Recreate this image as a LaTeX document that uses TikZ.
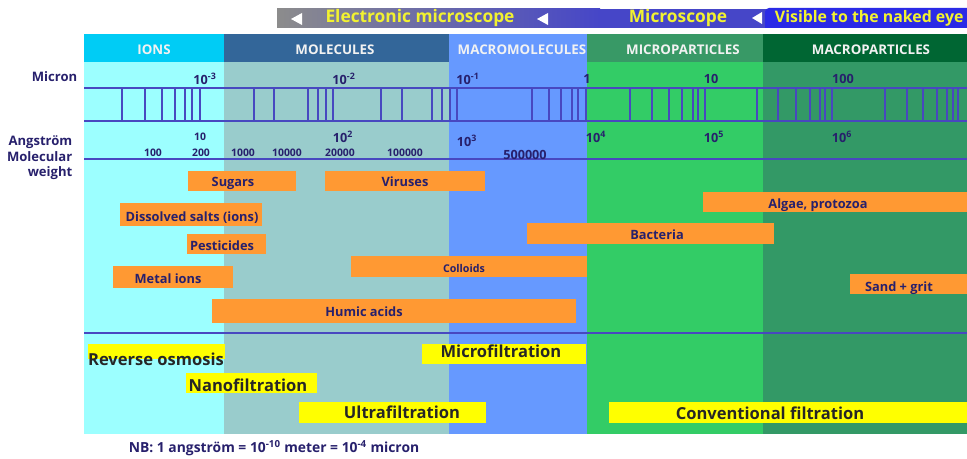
\documentclass[tikz,border=0pt]{standalone}
\usepackage{fontspec}
\setmainfont{Open Sans}
\usetikzlibrary{positioning}

\definecolor{ionhd}{HTML}{00CCF5}
\definecolor{ionbg}{HTML}{9CFFFF}
\definecolor{molhd}{HTML}{336699}
\definecolor{molbg}{HTML}{99CCCC}
\definecolor{mcmhd}{HTML}{6699FF}
\definecolor{mcmbg}{HTML}{6699FF}
\definecolor{mcphd}{HTML}{389966}
\definecolor{mcpbg}{HTML}{33CC66}
\definecolor{maphd}{HTML}{006633}
\definecolor{mapbg}{HTML}{339966}
\definecolor{orng}{HTML}{FF9933}
\definecolor{yel}{HTML}{FFFF00}
\definecolor{navy}{HTML}{27206C}
\definecolor{scl}{HTML}{4848C0}
\definecolor{txtdk}{HTML}{262626}
\definecolor{bargray}{HTML}{8C8C8C}
\definecolor{barblue}{HTML}{4646C8}
\definecolor{tabblue}{HTML}{2A2AE6}
\definecolor{bartxt}{HTML}{F2F230}

\begin{document}
\begin{tikzpicture}[x=0.75pt, y=-0.75pt,
    hdr/.style={font=\bfseries\fontsize{10}{11}\selectfont, text=white!95!black},
    toptxt/.style={font=\bfseries\fontsize{13}{14}\selectfont, text=bartxt},
    axl/.style={font=\bfseries\fontsize{9.5}{11}\selectfont, text=navy},
    mwl/.style={font=\bfseries\fontsize{7.8}{9}\selectfont, text=navy},
    sidelbl/.style={font=\bfseries\fontsize{9.8}{11.6}\selectfont, text=navy, align=right, anchor=east},
    blbl/.style={font=\bfseries\fontsize{9.6}{11}\selectfont, text=navy, inner sep=0pt, text height=1.6ex, text depth=0.4ex},
    flbl/.style={font=\bfseries\fontsize{12.4}{14}\selectfont, text=txtdk, inner sep=0pt, text height=1.6ex, text depth=0.4ex},
    sline/.style={draw=scl, line width=0.9pt}
]
\useasboundingbox (0,0) rectangle (967,459);

% size classes
\foreach \xa/\xb/\hc/\bc in {84/224/ionhd/ionbg, 224/449/molhd/molbg, 449/587/mcmhd/mcmbg, 587/763/mcphd/mcpbg, 763/967/maphd/mapbg}
{
  \fill[\bc] (\xa,62) rectangle (\xb,434);
  \fill[\hc] (\xa,34) rectangle (\xb,62);
}
\node[hdr] (hion) at (154,50) {IONS};
\node[hdr] (hmol) at (335,50) {MOLECULES};
\node[hdr] (hmcm) at (522,50) {MACROMOLECULES};
\node[hdr] (hmcp) at (683,50) {MICROPARTICLES};
\node[hdr] (hmap) at (871,50) {MACROPARTICLES};

% observation bar
\shade[left color=bargray, right color=barblue] (277,9) rectangle (600,28);
\fill[barblue] (599,9) rectangle (766,28);
\fill[tabblue] (765,28) [rounded corners=3pt] -- (765,8) [sharp corners] -- (967,8) -- (967,28) -- cycle;
\fill[white] (291,19) -- (302,13) -- (302,25) -- cycle;
\fill[white] (537,19) -- (548,13) -- (548,25) -- cycle;
\fill[white] (752,18) -- (762,12) -- (762,24) -- cycle;
\node[toptxt] (tel) at (420,18) {Electronic microscope};
\node[toptxt] (tmic) at (678,18) {Microscope};
\node[toptxt, font=\bfseries\fontsize{11.9}{13}\selectfont, anchor=east, inner sep=1pt] (tvis) at (965,18) {Visible to the naked eye};

% log scale
\draw[sline] (84,88) -- (967,88);
\draw[sline] (84,121) -- (967,121);
\foreach \t in {122,145,162,175,185,192,200,254,274,308,318,326,333,381,402,432,442,450,457,
    532,549,561,572,578,586,630,652,669,682,693,698,705,757,778,796,810,820,825,832,
    885,907,923,937,947,953,958}
  \draw[sline] (\t,88) -- (\t,121);
\draw[sline] (84,159) -- (967,159);
\draw[sline] (84,333) -- (967,333);

\node[sidelbl] (lmic) at (82,77) {Micron};
\node[sidelbl] (lang) at (77,158) {Angström\\Molecular\\weight};

\node[axl] (mu3) at (205,79) {10\textsuperscript{-3}};
\node[axl] (mu2) at (344,79) {10\textsuperscript{-2}};
\node[axl] (mu1) at (468,79) {10\textsuperscript{-1}};
\node[axl] (mu0) at (587,79) {1};
\node[axl] (mup1) at (711,79) {10};
\node[axl] (mup2) at (843,79) {100};

\node[mwl] (an1) at (200,137) {10};
\node[axl] (an2) at (343,137) {10\textsuperscript{2}};
\node[axl] (an3) at (467,141) {10\textsuperscript{3}};
\node[axl] (an4) at (596,137) {10\textsuperscript{4}};
\node[axl] (an5) at (714,137) {10\textsuperscript{5}};
\node[axl] (an6) at (842,137) {10\textsuperscript{6}};

\node[mwl] (mw1) at (153,153) {100};
\node[mwl] (mw2) at (201,153) {200};
\node[mwl] (mw3) at (243,153) {1000};
\node[mwl] (mw4) at (287,153) {10000};
\node[mwl] (mw5) at (340,153) {20000};
\node[mwl] (mw6) at (405,153) {100000};
\node[axl] (mw7) at (525,155) {500000};

% substances
\foreach \xa/\ya/\xb/\yb/\tx/\ty/\lb [count=\i] in {
    188/171/296/191/233/182/Sugars,
    325/171/485/191/405/182/Viruses,
    120/203/262/226/192/217/Dissolved salts (ions),
    187/234/266/254/222/246/Pesticides,
    113/266/233/288/168/279/Metal ions,
    212/299/576/323/364/312/Humic acids,
    703/192/967/212/818/204/{Algae, protozoa},
    527/223/774/244/657/235/Bacteria,
    850/274/967/294/899/287/Sand + grit}
{
  \fill[orng] (\xa,\ya) rectangle (\xb,\yb);
  \node[blbl] (sub\i) at (\tx,\ty) {\lb};
}
\fill[orng] (351,256) rectangle (587,277);
\node[blbl, font=\bfseries\fontsize{8}{9}\selectfont] (coll) at (464,268) {Colloids};

% processes
\foreach \xa/\ya/\xb/\yb/\tx/\ty/\lb [count=\i] in {
    88/344/225/359/156/361/Reverse osmosis,
    186/373/317/393/248/387/Nanofiltration,
    299/402/486/423/402/414/Ultrafiltration,
    422/344/586/364/501/353/Microfiltration,
    609/402/967/423/770/415/Conventional filtration}
{
  \fill[yel] (\xa,\ya) rectangle (\xb,\yb);
  \node[flbl] (proc\i) at (\tx,\ty) {\lb};
}

\node[axl, font=\bfseries\fontsize{10.4}{12}\selectfont] (nb) at (274,448) {NB: 1 angström = 10\textsuperscript{-10} meter = 10\textsuperscript{-4} micron};
\end{tikzpicture}
\end{document}
